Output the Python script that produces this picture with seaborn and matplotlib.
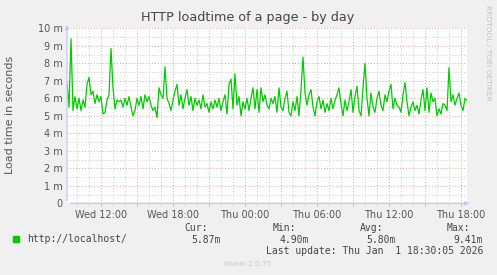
import numpy as np
import pandas as pd
import matplotlib
matplotlib.use("Agg")
import matplotlib.pyplot as plt
import matplotlib.dates as mdates
from matplotlib.ticker import MultipleLocator, FuncFormatter
import seaborn as sns

# ---- data (load time in milliseconds, one sample every 10 minutes) ----
start_time = "2025-12-31 09:10"
step = "10min"
loadtime_ms = [
    6.9, 5.5, 9.4, 5.3, 6.1, 5.4, 6.0, 5.3, 5.9, 5.5,
    6.8, 7.2, 6.2, 6.4, 5.7, 6.2, 5.8, 6.1, 5.1, 5.2,
    5.9, 6.2, 8.85, 6.6, 5.4, 5.9, 5.8, 5.9, 5.5, 6.0,
    5.6, 6.1, 5.5, 5.0, 5.3, 6.0, 5.6, 6.1, 5.4, 6.2,
    5.8, 6.1, 5.6, 5.3, 5.5, 4.9, 6.6, 6.2, 6.0, 7.8,
    # crop 2
    6.0, 5.7, 5.3, 5.9, 6.4, 6.8, 5.6, 6.2, 5.4, 6.0,
    6.5, 5.6, 6.1, 5.3, 6.0, 5.6, 5.9, 5.4, 6.2, 5.5,
    5.7, 5.2, 5.8, 5.4, 5.9, 5.5, 6.0, 5.3, 5.8, 6.2,
    5.1, 6.8, 7.1, 5.4, 7.4, 5.6, 6.1, 5.0, 5.8, 5.4,
    6.0, 5.3, 6.0, 6.6, 5.4, 6.5, 5.2, 6.6, 5.8, 6.2,
    5.6,
    # crop 3
    5.4, 6.0, 5.7, 6.1, 5.2, 6.6, 5.5, 5.3, 6.0, 6.4,
    5.2, 5.0, 5.8, 5.3, 6.1, 5.0, 6.5, 8.35, 6.3, 5.6,
    6.2, 6.5, 5.5, 5.0, 5.8, 6.1, 5.4, 5.9, 5.2, 5.7,
    5.3, 6.0, 5.4, 5.9, 6.2, 6.6, 5.7, 5.0, 5.9, 5.3,
    5.8, 6.5, 5.2, 6.1, 6.7, 5.3, 5.0, 6.6, 8.0, 6.0,
    # crop 4
    5.0, 6.3, 5.5, 5.2, 6.0, 6.4, 5.6, 5.3, 6.2, 5.8,
    6.4, 6.8, 5.4, 6.0, 5.6, 5.5, 5.2, 6.2, 6.9, 5.8,
    5.0, 5.5, 5.8, 5.3, 5.6, 5.1, 5.9, 6.5, 5.3, 6.6,
    5.2, 6.3, 5.8, 6.0, 5.0, 5.4, 5.1, 5.7, 5.6, 5.3,
    7.75, 5.8, 6.2, 5.6, 6.0, 6.3, 5.6, 5.3, 6.0, 5.87,
]
y_ticks_ms = [0, 1, 2, 3, 4, 5, 6, 7, 8, 9, 10]
series_label = "http://localhost/"
cur_val, min_val, avg_val, max_val = "5.87m", "4.90m", "5.80m", "9.41m"
last_update = "Last update: Thu Jan  1 18:30:05 2026"
title = "HTTP loadtime of a page - by day"
ylabel = "Load time in seconds"

times = pd.date_range(start_time, periods=len(loadtime_ms), freq=step)
df = pd.DataFrame({"time": times, "value": loadtime_ms})

W, H = 497, 275
fig = plt.figure(figsize=(W / 100, H / 100), dpi=100, facecolor="#F0F0F0")
ax = fig.add_axes([67 / W, (H - 203.3) / H, 400 / W, 175 / H])
ax.set_facecolor("white")

sns.lineplot(data=df, x="time", y="value", ax=ax, color="#00CC00",
             linewidth=0.9, legend=False)

ax.set_xlim(times[0], times[-1])
ax.set_ylim(0, 10)

# grids
red = "#E0A0A0"
gray = "#C8C8C8"
ax.yaxis.set_major_locator(MultipleLocator(1))
ax.yaxis.set_minor_locator(MultipleLocator(0.5))
ax.xaxis.set_major_locator(mdates.HourLocator(byhour=range(0, 24, 3)))
ax.xaxis.set_minor_locator(mdates.HourLocator(interval=1))

def xfmt(x, pos):
    d = mdates.num2date(x)
    if d.hour % 6 == 0:
        return d.strftime("%a %H:%M")
    return ""

ax.xaxis.set_major_formatter(FuncFormatter(xfmt))
ax.yaxis.set_major_formatter(FuncFormatter(lambda v, p: "0" if v == 0 else f"{v:g} m"))
ax.set_yticks(y_ticks_ms)

ax.grid(which="minor", color=gray, linestyle=(0, (1, 2)), linewidth=0.7)
ax.grid(which="major", color=red, linestyle=(0, (1, 2)), linewidth=0.7)
ax.set_axisbelow(True)

for s in ["top", "right", "left", "bottom"]:
    ax.spines[s].set_visible(False)

ax.tick_params(axis="both", which="major", labelsize=7, labelcolor="#555555",
               length=2.5, width=0.6, color=red, pad=2)
ax.tick_params(axis="both", which="minor", length=1.5, width=0.6, color=gray)
ax.tick_params(axis="y", which="both", length=0, pad=3)

# axis lines with arrows
axis_col = "#C8C8F0"
ax.annotate("", xy=(0, 1.035), xytext=(0, 0), xycoords="axes fraction",
            arrowprops=dict(arrowstyle="-|>", color=axis_col, lw=0.9,
                            mutation_scale=6), annotation_clip=False)
ax.annotate("", xy=(1.013, 0), xytext=(0, 0), xycoords="axes fraction",
            arrowprops=dict(arrowstyle="-|>", color=axis_col, lw=0.9,
                            mutation_scale=6), annotation_clip=False)

ax.set_xlabel("")
ax.set_ylabel("")

# texts
fig.text(248 / W, 1 - 18 / H, title, ha="center", va="center",
         fontsize=9.2, color="#444444")
fig.text(10 / W, 1 - 115 / H, ylabel, rotation=90, ha="center", va="center",
         fontsize=8, color="#555555")
fig.text(488 / W, 1 - 5 / H, "RRDTOOL / TOBI OETIKER", rotation=270,
         ha="center", va="top", fontsize=5.4, color="#C0C0C0")

mono = "DejaVu Sans Mono"
fs = 7
tc = "#444444"
fig.patches.append(plt.Rectangle((13 / W, 1 - 242 / H), 6 / W, 6 / H,
                                 transform=fig.transFigure, color="#00CC00"))
fig.text(27 / W, 1 - 239 / H, series_label, family=mono, fontsize=fs,
         color=tc, va="center", ha="left")
for lab, val, xr in [("Cur:", cur_val, 221), ("Min:", min_val, 309),
                     ("Avg:", avg_val, 396), ("Max:", max_val, 483)]:
    fig.text((xr - 13) / W, 1 - 228 / H, lab, family=mono, fontsize=fs,
             color=tc, va="center", ha="right")
    fig.text(xr / W, 1 - 240 / H, val, family=mono, fontsize=fs,
             color=tc, va="center", ha="right")
fig.text(483 / W, 1 - 251 / H, last_update, family=mono, fontsize=fs,
         color=tc, va="center", ha="right")
fig.text(248 / W, 1 - 264 / H, "Munin 2.0.75", fontsize=5.2,
         color="#C8C8C8", va="center", ha="center")

fig.savefig("out.png", dpi=100, facecolor=fig.get_facecolor())
